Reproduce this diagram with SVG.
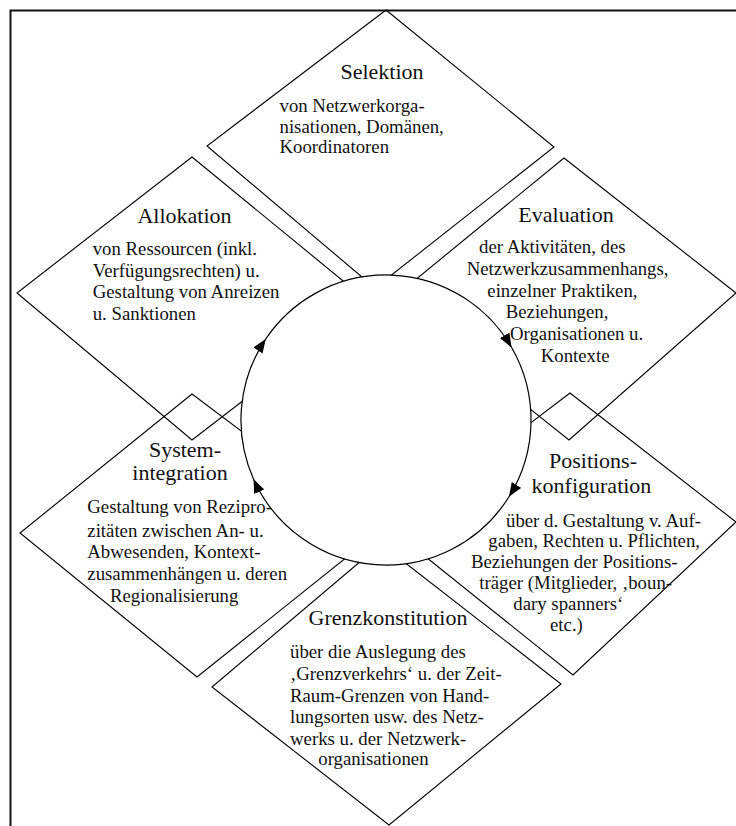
<svg xmlns="http://www.w3.org/2000/svg" width="736" height="826" viewBox="0 0 736 826">
<style>
.d{fill:none;stroke:#000;stroke-width:1.1;stroke-linejoin:miter}
.t{font-size:22px;fill:#111;text-anchor:middle}
.b{font-size:18.8px;fill:#111}
.c{fill:none;stroke:#000;stroke-width:1.2}
</style>
<defs>
<marker id="ah" markerUnits="userSpaceOnUse" markerWidth="15" markerHeight="12" refX="14" refY="5.5" orient="auto">
<path d="M0,0 L14,5.5 L0,11 z" fill="#000"/>
</marker>
</defs>
<rect x="0" y="0" width="736" height="826" fill="#fff"/>
<g id="frame">
<path d="M10.5,826 V10.5 H736" fill="none" stroke="#111" stroke-width="2"/>
</g>
<g font-family="'Liberation Serif', Tinos, 'DejaVu Serif', serif">
<g id="selektion">
<polygon class="d" points="386,10 554,147 375,288 207,146"/>
<text class="t" x="382" y="79">Selektion</text>
<text class="b" x="279.5" y="112">von Netzwerkorga-</text>
<text class="b" x="279.5" y="132.5">nisationen, Domänen,</text>
<text class="b" x="279.5" y="153">Koordinatoren</text>
</g>
<g id="allokation">
<polygon class="d" points="192,157 370,303 192,440 17,293"/>
<text class="t" x="184.5" y="222.5">Allokation</text>
<text class="b" x="92.7" y="255">von Ressourcen (inkl.</text>
<text class="b" x="92.7" y="276.5">Verfügungsrechten) u.</text>
<text class="b" x="92.7" y="298">Gestaltung von Anreizen</text>
<text class="b" x="92.7" y="319.5">u. Sanktionen</text>
</g>
<g id="evaluation">
<polygon class="d" points="564,158 736,293 569,440 392,299"/>
<text class="t" x="566" y="221.5">Evaluation</text>
<text class="b" x="479" y="253">der Aktivitäten, des</text>
<text class="b" x="466.7" y="275">Netzwerkzusammenhangs,</text>
<text class="b" x="487.3" y="296.5">einzelner Praktiken,</text>
<text class="b" x="505.7" y="318">Beziehungen,</text>
<text class="b" x="510" y="340">Organisationen u.</text>
<text class="b" x="540.7" y="362">Kontexte</text>
</g>
<g id="systemintegration">
<polygon class="d" points="192,394 377,533 197,677 20,533"/>
<text class="t" x="185" y="456.5">System-</text>
<text class="t" x="180" y="480">integration</text>
<text class="b" x="87.3" y="513">Gestaltung von Rezipro-</text>
<text class="b" x="87.3" y="536.5">zitäten zwischen An- u.</text>
<text class="b" x="87.3" y="558">Abwesenden, Kontext-</text>
<text class="b" x="87.3" y="580">zusammenhängen u. deren</text>
<text class="b" x="110" y="601.5">Regionalisierung</text>
</g>
<g id="positionskonfiguration">
<polygon class="d" points="570,393 736,522 573,675 391,529"/>
<text class="t" x="593" y="468">Positions-</text>
<text class="t" x="591.5" y="493">konfiguration</text>
<text class="b" x="506" y="526.5">über d. Gestaltung v. Auf-</text>
<text class="b" x="488.3" y="547">gaben, Rechten u. Pflichten,</text>
<text class="b" x="471" y="568">Beziehungen der Positions-</text>
<text class="b" x="479.3" y="589">träger (Mitglieder, ‚boun-</text>
<text class="b" x="513.3" y="610">dary spanners‘</text>
<text class="b" x="550" y="630.5">etc.)</text>
</g>
<g id="grenzkonstitution">
<polygon class="d" points="381,544 561,684 389,825 212,687"/>
<text class="t" x="388" y="625">Grenzkonstitution</text>
<text class="b" x="290" y="658">über die Auslegung des</text>
<text class="b" x="290" y="680">‚Grenzverkehrs‘ u. der Zeit-</text>
<text class="b" x="290" y="701.5">Raum-Grenzen von Hand-</text>
<text class="b" x="290" y="723">lungsorten usw. des Netz-</text>
<text class="b" x="290" y="745">werks u. der Netzwerk-</text>
<text class="b" x="318.3" y="764.5">organisationen</text>
</g>
</g>
<g id="connectors">
<circle cx="386" cy="420" r="145" fill="#fff"/>
<path class="c" d="M253.5,479 A145,145 0 0 1 265.8,338.9" marker-end="url(#ah)"/>
<path class="c" d="M265.8,338.9 A145,145 0 0 1 511.6,347.5" marker-end="url(#ah)"/>
<path class="c" d="M511.6,347.5 A145,145 0 0 1 509,496.8" marker-end="url(#ah)"/>
<path class="c" d="M509,496.8 A145,145 0 0 1 253.5,479" marker-end="url(#ah)"/>
</g>
</svg>
